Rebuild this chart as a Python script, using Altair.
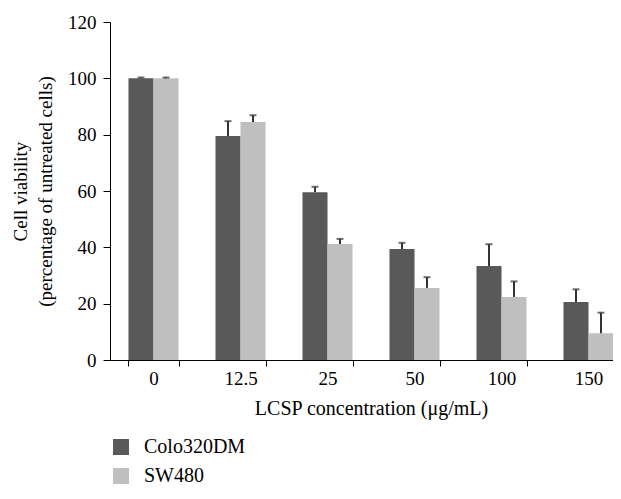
import altair as alt
import pandas as pd

conc = ["0", "12.5", "25", "50", "100", "150"]
series = ["Colo320DM", "SW480"]
colo = [100, 79.5, 59.6, 39.4, 33.4, 20.6]
colo_err = [0.3, 5.3, 1.9, 2.2, 7.7, 4.5]
sw = [100, 84.5, 41.2, 25.6, 22.4, 9.5]
sw_err = [0.3, 2.4, 1.8, 3.8, 5.5, 7.3]

rows = []
for i, c in enumerate(conc):
    rows.append({"conc": c, "series": series[0], "value": colo[i], "upper": colo[i] + colo_err[i]})
    rows.append({"conc": c, "series": series[1], "value": sw[i], "upper": sw[i] + sw_err[i]})
df = pd.DataFrame(rows)

FONT = "Liberation Serif"
FS = 19

yscale = alt.Scale(domain=[0, 120], nice=False)
yaxis = alt.Axis(
    values=[0, 20, 40, 60, 80, 100, 120], grid=False, tickSize=7, labelPadding=7,
    domainColor="black", tickColor="black", labelColor="black",
    labelFont=FONT, labelFontSize=FS,
    title=["Cell viability", "(percentage of untreated cells)"],
    titleFont=FONT, titleFontSize=FS, titleFontWeight="normal", titleColor="black",
    titlePadding=12, titleLineHeight=25,
)

base = alt.Chart(df).encode(
    x=alt.X(
        "conc:N", sort=conc,
        scale=alt.Scale(range=[0, 522], paddingInner=0.425, paddingOuter=0.2125),
        axis=alt.Axis(
            labelAngle=0, tickBand="extent", tickSize=6, labelPadding=3,
            domainColor="black", tickColor="black", labelColor="black",
            labelFont=FONT, labelFontSize=FS,
            title="LCSP concentration (μg/mL)", titleFont=FONT, titleFontSize=20,
            titleFontWeight="normal", titleColor="black", titlePadding=10, titleX=261,
        ),
    ),
    xOffset=alt.XOffset("series:N", sort=series, scale=alt.Scale(paddingInner=0, paddingOuter=0)),
)

bars = base.mark_bar().encode(
    y=alt.Y("value:Q", scale=yscale, axis=yaxis, stack=None),
    color=alt.Color(
        "series:N", sort=series,
        scale=alt.Scale(domain=series, range=["#595959", "#bfbfbf"]),
        legend=alt.Legend(
            title=None, orient="none", legendX=1, legendY=415, direction="vertical",
            symbolType="square", symbolSize=256, symbolStrokeWidth=0,
            labelFont=FONT, labelFontSize=20, labelColor="black", labelOffset=13,
            rowPadding=9,
        ),
    ),
)

rules = base.mark_rule(color="#333333", strokeWidth=2).encode(
    y=alt.Y("value:Q", scale=yscale, axis=yaxis),
    y2="upper:Q",
)

caps = base.mark_tick(color="#333333", thickness=2, size=7, orient="horizontal").encode(
    y=alt.Y("upper:Q", scale=yscale, axis=yaxis),
)

chart = alt.layer(bars, rules, caps).properties(
    width=503, height=338,
    autosize=alt.AutoSizeParams(type="none"),
    padding={"left": 102, "top": 14, "right": 0, "bottom": 129},
).configure_view(stroke=None)

chart.save("out.html", embed_options={"renderer": "svg", "actions": False})
